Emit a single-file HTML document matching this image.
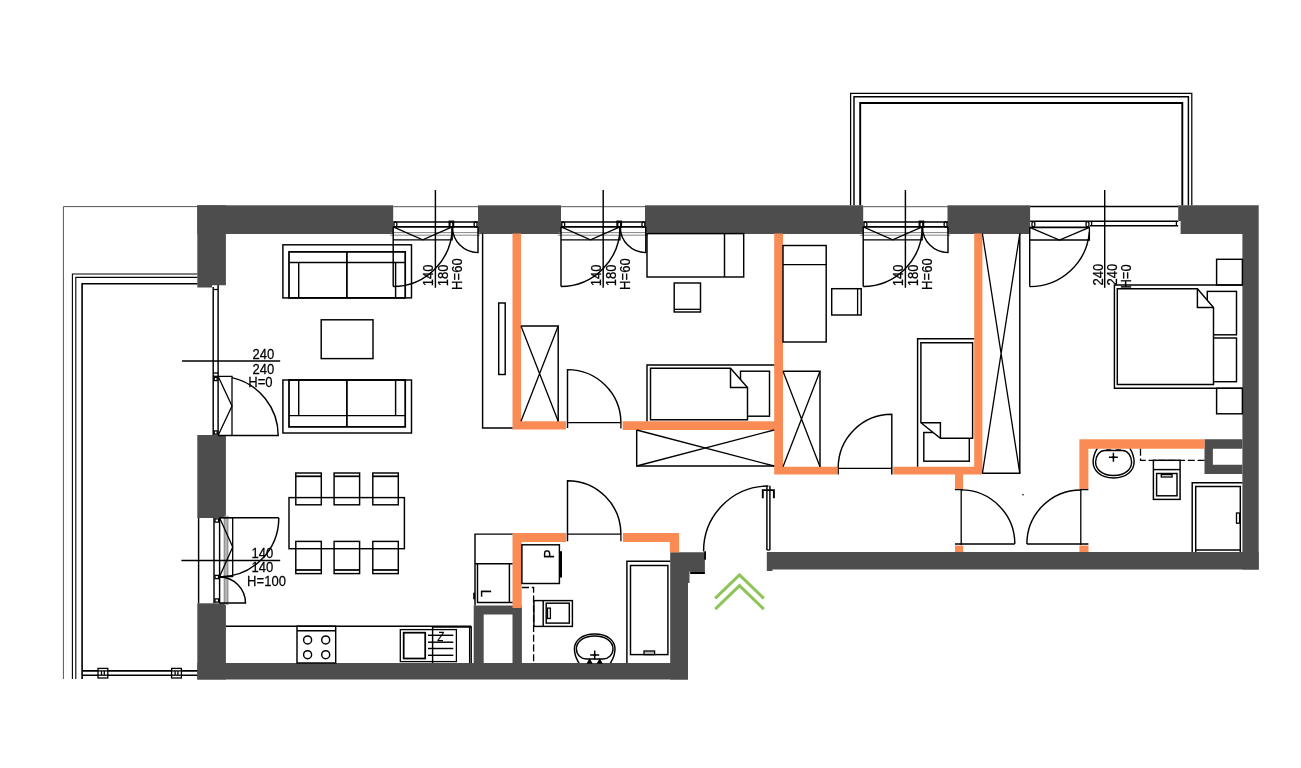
<!DOCTYPE html>
<html lang="pl">
<head>
<meta charset="utf-8">
<title>Rzut mieszkania</title>
<style>
html,body{margin:0;padding:0;background:#fff;}
body{width:1301px;height:768px;overflow:hidden;}
svg{display:block;}
text{font-family:"Liberation Sans",sans-serif;fill:#000;stroke:#000;stroke-width:0.25px;filter:grayscale(1);}
.t{stroke:#000;stroke-width:1.3;fill:none;}
.m{stroke:#000;stroke-width:1.45;fill:none;}
.k{stroke:#000;stroke-width:1.75;fill:none;}
.g{stroke:#555;stroke-width:1;fill:none;}
.g2{stroke:#555;stroke-width:0.7;fill:none;}
.g3{stroke:#777;stroke-width:0.9;fill:none;}
</style>
</head>
<body>
<svg width="1301" height="768" viewBox="0 0 1301 768">
<rect x="0" y="0" width="1301" height="768" fill="#fff"/>
<g fill="#4d4d4d" stroke="none">
<rect x="197.30" y="205.30" width="195.90" height="28.70"/>
<rect x="478.00" y="205.30" width="83.00" height="28.70"/>
<rect x="645.00" y="205.30" width="218.20" height="28.70"/>
<rect x="947.50" y="205.30" width="82.60" height="28.70"/>
<path d="M1178.2 205.3 H1258.7 V569.6 H1242.4 V234.0 H1180.6 V221 H1178.2 Z"/>
<path d="M197.3 205.3 H225.9 V285.2 H212 V287.5 H197.3 Z"/>
<rect x="197.30" y="435.00" width="28.60" height="83.00"/>
<rect x="197.30" y="603.30" width="28.60" height="76.20"/>
<rect x="197.30" y="663.00" width="490.50" height="16.50"/>
<path d="M670.2 552.3 H704.9 V571.5 H689.5 V583 H688 V679.5 H670.2 Z"/>
<path d="M473.7 605.6 H521.9 V663 H512.5 V614.6 H483.7 V663 H473.7 Z"/>
<path d="M766.8 552 H1258.7 V569.6 H772.5 V571 H766.8 Z"/>
<path d="M1204.5 439.2 H1242.4 V448.8 H1212.9 V464.8 H1242.4 V474.1 H1204.5 Z"/>
</g>
<rect x="690.20" y="571.50" width="14.70" height="2.50" fill="#000"/>
<rect x="704.20" y="551.30" width="1.80" height="8.40" fill="#000"/>
<g fill="#fa8b55" stroke="none">
<path d="M512.5 233.6 H521 V421.2 H565.9 V429.6 H512.5 Z"/>
<path d="M622.7 421.2 H774.2 V233.6 H783 V466.7 H837 V474.6 H774.2 V430 H622.7 Z"/>
<path d="M893.2 466.7 H974.2 V233.6 H982.4 V474.6 H963.1 V489 H955 V474.6 H893.2 Z"/>
<rect x="955.00" y="545.60" width="8.10" height="6.40"/>
<path d="M1079.4 439.2 H1204.5 V448.8 H1088.4 V489 H1079.4 Z"/>
<rect x="1079.40" y="545.60" width="9.10" height="6.40"/>
<path d="M512.5 533.1 H566.2 V541.9 H521.7 V608.1 H512.5 Z"/>
<path d="M622.9 533.1 H679.1 V552.3 H669.8 V541.9 H622.9 Z"/>
</g>
<path d="M197.3 206.6 H63.4 V679" class="g"/>
<path d="M197.3 274 H72.4 V679" class="t" style="stroke-width:1.1"/>
<path d="M197.3 277.4 H75.8 V679" class="t" style="stroke-width:1.1"/>
<path d="M197.3 283.7 H82.1 V679" class="m" style="stroke-width:1.6"/>
<line x1="82.10" y1="670.90" x2="197.30" y2="670.90" class="m" style="stroke-width:1.6"/>
<line x1="82.10" y1="675.20" x2="197.30" y2="675.20" class="m" style="stroke-width:1.6"/>
<rect x="98.00" y="668.40" width="9.80" height="9.60" class="t" style="fill:#fff"/>
<line x1="98.00" y1="670.90" x2="107.80" y2="670.90" class="t"/>
<line x1="98.00" y1="675.20" x2="107.80" y2="675.20" class="t"/>
<line x1="101.50" y1="671.00" x2="101.50" y2="675.00" class="t"/>
<line x1="104.30" y1="671.00" x2="104.30" y2="675.00" class="t"/>
<rect x="171.60" y="668.40" width="9.80" height="9.60" class="t" style="fill:#fff"/>
<line x1="171.60" y1="670.90" x2="181.40" y2="670.90" class="t"/>
<line x1="171.60" y1="675.20" x2="181.40" y2="675.20" class="t"/>
<line x1="175.10" y1="671.00" x2="175.10" y2="675.00" class="t"/>
<line x1="177.90" y1="671.00" x2="177.90" y2="675.00" class="t"/>
<path d="M850.6 205.3 V93.3 H1191.8 V205.3" class="t" style="stroke-width:1.25"/>
<path d="M854 205.3 V96.8 H1188.4 V205.3" class="m"/>
<path d="M860.2 205.3 V103 H1182.3 V205.3" class="k" style="stroke-width:1.9"/>
<line x1="213.20" y1="287.00" x2="213.20" y2="435.00" class="m"/>
<line x1="218.10" y1="285.00" x2="218.10" y2="435.00" class="m"/>
<line x1="213.20" y1="289.50" x2="218.10" y2="289.50" class="t"/>
<line x1="213.20" y1="373.00" x2="218.10" y2="373.00" class="t"/>
<line x1="213.20" y1="376.30" x2="218.10" y2="376.30" class="t"/>
<path d="M218.1 376.3 H232 V435.5" class="t"/>
<path d="M218.1 376.3 L232 406 L218.1 435.5" class="t"/>
<path d="M232 377.6 A59.6 59.6 0 0 1 278.2 435.5 H218.1" class="m"/>
<rect x="214.20" y="377.40" width="3.00" height="3.20" class="t" fill="none"/>
<rect x="214.20" y="430.90" width="3.00" height="3.20" class="t" fill="none"/>
<line x1="182.00" y1="361.00" x2="280.20" y2="361.00" class="m"/>
<text transform="translate(252.60 359.00) scale(0.86 1)" font-size="15.2">240</text>
<text transform="translate(252.60 373.90) scale(0.86 1)" font-size="15.2">240</text>
<text transform="translate(248.20 387.20) scale(0.86 1)" font-size="15.2">H=0</text>
<line x1="198.60" y1="518.00" x2="198.60" y2="603.30" class="m"/>
<line x1="214.00" y1="518.00" x2="214.00" y2="603.30" class="m"/>
<line x1="219.60" y1="518.00" x2="219.60" y2="603.30" class="m"/>
<rect x="224.40" y="515.70" width="3.30" height="89.30" fill="#b4b4b4"/>
<line x1="224.20" y1="515.70" x2="224.20" y2="605.00" class="g2"/>
<line x1="227.90" y1="515.70" x2="227.90" y2="605.00" class="g2"/>
<path d="M219.6 517.7 H278.8" class="m"/>
<path d="M219.6 517.7 H232.7 V576.6 H219.6" class="t"/>
<path d="M219.6 517.7 L232.7 547 L219.6 576.6" class="t"/>
<path d="M278.8 517.7 A59.2 59.2 0 0 1 219.6 576.9" class="m"/>
<path d="M219.6 577 A26 26 0 0 1 245.5 603 H219.6" class="m"/>
<rect x="215.00" y="518.90" width="3.60" height="3.20" class="t" fill="none"/>
<rect x="215.00" y="575.40" width="3.60" height="3.20" class="t" fill="none"/>
<rect x="215.00" y="598.90" width="3.60" height="3.20" class="t" fill="none"/>
<line x1="181.40" y1="560.40" x2="280.20" y2="560.40" class="m"/>
<text transform="translate(251.40 558.00) scale(0.86 1)" font-size="15.2">140</text>
<text transform="translate(251.40 572.40) scale(0.86 1)" font-size="15.2">140</text>
<text transform="translate(247.10 586.40) scale(0.86 1)" font-size="15.2">H=100</text>
<line x1="393.20" y1="206.70" x2="478.00" y2="206.70" class="g"/>
<line x1="390.20" y1="232.60" x2="480.20" y2="232.60" class="g3"/>
<line x1="390.20" y1="235.20" x2="480.20" y2="235.20" class="g3"/>
<line x1="393.20" y1="222.00" x2="478.00" y2="222.00" class="m"/>
<line x1="393.20" y1="226.90" x2="478.00" y2="226.90" class="m" style="stroke-width:1.7"/>
<ellipse cx="395.40" cy="224.4" rx="1.5" ry="2.6" class="t" fill="none"/>
<ellipse cx="451.40" cy="224.4" rx="1.5" ry="2.6" class="t" fill="none"/>
<ellipse cx="475.60" cy="224.4" rx="1.5" ry="2.6" class="t" fill="none"/>
<rect x="449.20" y="221.20" width="4.40" height="6.20" class="t" fill="none"/>
<path d="M393.20 226.9 V286.4" class="m"/>
<path d="M393.20 239.9 H452.20 V226.9" class="t"/>
<path d="M393.20 226.9 L422.70 239.9 L452.20 226.9" class="t"/>
<path d="M452.20 227 A59.2 59.2 0 0 1 393.20 286.4" class="m"/>
<path d="M452.50 227 A25.5 25.5 0 0 0 478.00 252.6 V227" class="m"/>
<line x1="435.40" y1="190.00" x2="435.40" y2="287.80" class="m"/>
<text transform="translate(433.40 286.20) rotate(-90) scale(0.86 1)" font-size="15.2">140</text>
<text transform="translate(448.00 286.20) rotate(-90) scale(0.86 1)" font-size="15.2">180</text>
<text transform="translate(461.80 289.90) rotate(-90) scale(0.86 1)" font-size="15.2">H=60</text>
<line x1="561.00" y1="206.70" x2="645.80" y2="206.70" class="g"/>
<line x1="558.00" y1="232.60" x2="648.00" y2="232.60" class="g3"/>
<line x1="558.00" y1="235.20" x2="648.00" y2="235.20" class="g3"/>
<line x1="561.00" y1="222.00" x2="645.80" y2="222.00" class="m"/>
<line x1="561.00" y1="226.90" x2="645.80" y2="226.90" class="m" style="stroke-width:1.7"/>
<ellipse cx="563.20" cy="224.4" rx="1.5" ry="2.6" class="t" fill="none"/>
<ellipse cx="619.20" cy="224.4" rx="1.5" ry="2.6" class="t" fill="none"/>
<ellipse cx="643.40" cy="224.4" rx="1.5" ry="2.6" class="t" fill="none"/>
<rect x="617.00" y="221.20" width="4.40" height="6.20" class="t" fill="none"/>
<path d="M561.00 226.9 V286.4" class="m"/>
<path d="M561.00 239.9 H620.00 V226.9" class="t"/>
<path d="M561.00 226.9 L590.50 239.9 L620.00 226.9" class="t"/>
<path d="M620.00 227 A59.2 59.2 0 0 1 561.00 286.4" class="m"/>
<path d="M620.30 227 A25.5 25.5 0 0 0 645.80 252.6 V227" class="m"/>
<line x1="603.20" y1="190.00" x2="603.20" y2="287.80" class="m"/>
<text transform="translate(601.20 286.20) rotate(-90) scale(0.86 1)" font-size="15.2">140</text>
<text transform="translate(615.80 286.20) rotate(-90) scale(0.86 1)" font-size="15.2">180</text>
<text transform="translate(629.60 289.90) rotate(-90) scale(0.86 1)" font-size="15.2">H=60</text>
<line x1="863.20" y1="206.70" x2="948.00" y2="206.70" class="g"/>
<line x1="860.20" y1="232.60" x2="950.20" y2="232.60" class="g3"/>
<line x1="860.20" y1="235.20" x2="950.20" y2="235.20" class="g3"/>
<line x1="863.20" y1="222.00" x2="948.00" y2="222.00" class="m"/>
<line x1="863.20" y1="226.90" x2="948.00" y2="226.90" class="m" style="stroke-width:1.7"/>
<ellipse cx="865.40" cy="224.4" rx="1.5" ry="2.6" class="t" fill="none"/>
<ellipse cx="921.40" cy="224.4" rx="1.5" ry="2.6" class="t" fill="none"/>
<ellipse cx="945.60" cy="224.4" rx="1.5" ry="2.6" class="t" fill="none"/>
<rect x="919.20" y="221.20" width="4.40" height="6.20" class="t" fill="none"/>
<path d="M863.20 226.9 V286.4" class="m"/>
<path d="M863.20 239.9 H922.20 V226.9" class="t"/>
<path d="M863.20 226.9 L892.70 239.9 L922.20 226.9" class="t"/>
<path d="M922.20 227 A59.2 59.2 0 0 1 863.20 286.4" class="m"/>
<path d="M922.50 227 A25.5 25.5 0 0 0 948.00 252.6 V227" class="m"/>
<line x1="905.40" y1="190.00" x2="905.40" y2="287.80" class="m"/>
<text transform="translate(903.40 286.20) rotate(-90) scale(0.86 1)" font-size="15.2">140</text>
<text transform="translate(918.00 286.20) rotate(-90) scale(0.86 1)" font-size="15.2">180</text>
<text transform="translate(931.80 289.90) rotate(-90) scale(0.86 1)" font-size="15.2">H=60</text>
<line x1="1030.10" y1="206.50" x2="1178.20" y2="206.50" class="m"/>
<line x1="1030.10" y1="221.30" x2="1178.20" y2="221.30" class="m"/>
<line x1="1090.00" y1="225.80" x2="1178.20" y2="225.80" class="m"/>
<line x1="1030.10" y1="227.30" x2="1090.00" y2="227.30" class="k"/>
<ellipse cx="1033.4" cy="224.3" rx="1.5" ry="2.6" class="t" fill="none"/>
<ellipse cx="1087.5" cy="224.3" rx="1.5" ry="2.6" class="t" fill="none"/>
<line x1="1091.60" y1="221.30" x2="1091.60" y2="225.80" class="t"/>
<line x1="1176.40" y1="221.30" x2="1176.40" y2="225.80" class="t"/>
<path d="M1029.7 227.3 V286.6" class="m"/>
<path d="M1029.7 240 H1089.4 V227.3" class="t"/>
<path d="M1029.7 227.3 L1059.5 240 L1089.4 227.3" class="t"/>
<path d="M1089.4 232 A59.7 59.7 0 0 1 1029.7 286.6" class="m"/>
<line x1="1104.70" y1="190.00" x2="1104.70" y2="287.80" class="m"/>
<text transform="translate(1102.80 285.40) rotate(-90) scale(0.86 1)" font-size="15.2">240</text>
<text transform="translate(1117.20 285.40) rotate(-90) scale(0.86 1)" font-size="15.2">240</text>
<text transform="translate(1130.70 288.60) rotate(-90) scale(0.86 1)" font-size="15.2">H=0</text>
<rect x="282.90" y="244.80" width="128.60" height="53.10" class="m" fill="none"/>
<rect x="289.00" y="251.90" width="116.20" height="46.00" class="k" fill="none"/>
<line x1="289.00" y1="262.50" x2="405.20" y2="262.50" class="m"/>
<line x1="346.90" y1="251.90" x2="346.90" y2="297.90" class="k"/>
<line x1="298.70" y1="262.50" x2="298.70" y2="297.90" class="m"/>
<line x1="395.60" y1="262.50" x2="395.60" y2="297.90" class="m"/>
<rect x="282.90" y="380.00" width="128.60" height="53.00" class="m" fill="none"/>
<rect x="289.00" y="380.00" width="116.20" height="46.90" class="k" fill="none"/>
<line x1="289.00" y1="415.60" x2="405.20" y2="415.60" class="m"/>
<line x1="346.90" y1="380.00" x2="346.90" y2="426.90" class="k"/>
<line x1="298.70" y1="380.00" x2="298.70" y2="415.60" class="m"/>
<line x1="395.60" y1="380.00" x2="395.60" y2="415.60" class="m"/>
<rect x="321.20" y="319.80" width="51.80" height="38.80" class="m" fill="none"/>
<rect x="295.80" y="473.00" width="25.50" height="31.80" class="m" fill="none"/>
<line x1="295.80" y1="476.30" x2="321.30" y2="476.30" class="k"/>
<rect x="295.80" y="541.40" width="25.50" height="32.20" class="m" fill="none"/>
<line x1="295.80" y1="570.00" x2="321.30" y2="570.00" class="k"/>
<rect x="334.10" y="473.00" width="25.50" height="31.80" class="m" fill="none"/>
<line x1="334.10" y1="476.30" x2="359.60" y2="476.30" class="k"/>
<rect x="334.10" y="541.40" width="25.50" height="32.20" class="m" fill="none"/>
<line x1="334.10" y1="570.00" x2="359.60" y2="570.00" class="k"/>
<rect x="372.80" y="473.00" width="25.50" height="31.80" class="m" fill="none"/>
<line x1="372.80" y1="476.30" x2="398.30" y2="476.30" class="k"/>
<rect x="372.80" y="541.40" width="25.50" height="32.20" class="m" fill="none"/>
<line x1="372.80" y1="570.00" x2="398.30" y2="570.00" class="k"/>
<rect x="289.00" y="497.60" width="115.40" height="51.10" class="m" fill="none"/>
<path d="M482.6 233.6 V428 H512.5" class="m"/>
<rect x="498.70" y="303.00" width="6.50" height="71.50" class="m" fill="none"/>
<line x1="225.90" y1="626.20" x2="471.20" y2="626.20" class="m"/>
<line x1="432.60" y1="627.20" x2="471.20" y2="627.20" class="t"/>
<rect x="297.00" y="626.20" width="38.70" height="36.80" class="m" fill="none"/>
<line x1="297.00" y1="630.80" x2="335.70" y2="630.80" class="m"/>
<circle cx="307.6" cy="639.9" r="4" class="m" fill="none"/>
<circle cx="325.7" cy="639.9" r="4" class="m" fill="none"/>
<circle cx="307.6" cy="654.7" r="4" class="m" fill="none"/>
<circle cx="325.7" cy="654.7" r="4" class="m" fill="none"/>
<rect x="400.30" y="629.60" width="56.10" height="32.00" class="t" fill="none"/>
<rect x="403.70" y="632.70" width="21.50" height="25.80" class="k" fill="none"/>
<line x1="428.00" y1="635.30" x2="453.30" y2="635.30" class="m"/>
<line x1="428.00" y1="642.20" x2="453.30" y2="642.20" class="m"/>
<line x1="428.00" y1="648.50" x2="453.30" y2="648.50" class="m"/>
<line x1="428.00" y1="655.30" x2="453.30" y2="655.30" class="m"/>
<line x1="432.60" y1="626.20" x2="432.60" y2="663.00" class="m"/>
<line x1="471.20" y1="626.20" x2="471.20" y2="663.00" class="m"/>
<line x1="469.60" y1="626.20" x2="469.60" y2="663.00" class="t"/>
<text transform="translate(437.80 641.40) scale(0.8 1)" font-size="12" font-style="italic">Z</text>
<path d="M475 605.6 V534.1 H512.5" class="m"/>
<line x1="475.00" y1="563.80" x2="512.50" y2="563.80" class="m"/>
<path d="M477.5 563.8 V602.5 H512.5" class="m"/>
<line x1="509.40" y1="563.80" x2="509.40" y2="602.50" class="m"/>
<rect x="473.20" y="592.50" width="1.80" height="7.10" fill="#000" rx="0.8"/>
<text transform="translate(480.70 589.70) rotate(90) scale(0.86 1)" font-size="15.2">L</text>
<path d="M567.5 428 V369.6 A53.4 53.4 0 0 1 620.9 422.4" class="m"/>
<line x1="567.50" y1="422.60" x2="620.90" y2="422.60" class="t"/>
<line x1="620.90" y1="422.00" x2="620.90" y2="428.60" class="t"/>
<path d="M567.5 541.3 V480.7 A53.4 53.4 0 0 1 620.9 534.1" class="m"/>
<line x1="567.50" y1="534.10" x2="620.90" y2="534.10" class="t"/>
<line x1="620.90" y1="534.00" x2="620.90" y2="541.30" class="t"/>
<rect x="521.90" y="544.80" width="37.50" height="38.70" class="m" fill="none"/>
<line x1="560.80" y1="551.20" x2="560.80" y2="577.50" class="t" style="stroke-width:2.4"/>
<text transform="translate(554.40 558.30) rotate(-90) scale(0.86 1)" font-size="15.2">P</text>
<path d="M522 587.5 H533.6 V663" class="t" stroke-dasharray="7 2.8"/>
<rect x="533.90" y="600.60" width="38.50" height="25.80" class="m" fill="none"/>
<line x1="543.20" y1="600.60" x2="543.20" y2="626.40" class="m"/>
<rect x="546.20" y="603.20" width="23.10" height="19.90" class="m" fill="none"/>
<rect x="547.50" y="608.10" width="2.90" height="10.40" class="t" fill="none"/>
<clipPath id="cb1"><rect x="570" y="630" width="50" height="33"/></clipPath>
<g clip-path="url(#cb1)">
<path d="M594.7 634 C608 634 615 641 615 649 C615 656 611 663 607 668 H582.4 C578.4 663 574.4 656 574.4 649 C574.4 641 581.4 634 594.7 634 Z" class="m" fill="none"/>
<path d="M594.7 636 C606.5 636 613 642 613 649 C613 655 608 659 603 659 H586.4 C581.4 659 576.4 655 576.4 649 C576.4 642 582.9 636 594.7 636 Z" class="m" fill="none"/>
</g>
<path d="M590.2 654.9 H599.2 M594.7 650.4 V659.4" class="m"/>
<circle cx="594.7" cy="654.9" r="1.3" fill="#000"/>
<path d="M587.6 663 L589.6 659.6 L591.6 663 Z M597.7 663 L599.7 659.6 L601.7 663 Z" class="t" style="fill:#000"/>
<path d="M626.9 663 V561.3 H670.2" class="m"/>
<rect x="630.50" y="565.50" width="37.40" height="89.10" class="m" fill="none"/>
<rect x="644.00" y="651.00" width="10.60" height="3.60" class="t" style="fill:#bbb"/>
<path d="M521 326 H558.2 V421.2" class="m"/>
<path d="M521 326 L558.2 421.2 M558.2 326 L521 421.2" class="t"/>
<rect x="647.00" y="233.60" width="96.70" height="43.40" class="m" fill="none"/>
<line x1="724.50" y1="233.60" x2="724.50" y2="277.00" class="m"/>
<rect x="674.20" y="283.00" width="26.30" height="29.00" class="m" fill="none"/>
<line x1="674.20" y1="309.30" x2="700.50" y2="309.30" class="t"/>
<path d="M774.2 365 H647 V421.2" class="m"/>
<rect x="740.50" y="371.20" width="29.00" height="45.00" class="m" fill="none"/>
<path d="M650.5 368.2 H730.5 L747.5 387.5 V419.8 H650.5 Z" class="m" style="fill:#fff"/>
<path d="M730.5 368.2 V387.5 H747.5" class="m"/>
<path d="M636.7 430 V466 H774.2" class="m"/>
<path d="M636.7 466 L774.2 430 M636.7 430 L774.2 466" class="t"/>
<rect x="783.00" y="245.50" width="43.20" height="96.50" class="m" fill="none"/>
<line x1="783.00" y1="264.60" x2="826.20" y2="264.60" class="m"/>
<rect x="831.70" y="288.70" width="29.50" height="26.30" class="m" fill="none"/>
<line x1="857.60" y1="288.70" x2="857.60" y2="315.00" class="t"/>
<path d="M783 371.2 H820 V466.7" class="m"/>
<path d="M783 371.2 L820 466.7 M820 371.2 L783 466.7" class="t"/>
<path d="M891.8 474.4 V414.2 A53.6 53.6 0 0 0 838.2 467.8" class="m"/>
<line x1="838.20" y1="468.30" x2="891.80" y2="468.30" class="t"/>
<line x1="838.20" y1="467.50" x2="838.20" y2="474.40" class="t"/>
<path d="M917.6 466.7 V338.8 H974.2" class="m"/>
<rect x="923.80" y="432.50" width="45.50" height="28.70" class="m" fill="none"/>
<path d="M920.9 342.7 H972.6 V438.3 H940.4 L920.9 422.7 Z" class="m" style="fill:#fff"/>
<path d="M920.9 422.7 H940.4 V438.3" class="m"/>
<path d="M1019.8 233.6 V473.3 H982.4" class="m"/>
<path d="M982.4 473.3 L1019.8 233.6 M1019.8 473.3 L982.4 233.6" class="t"/>
<path d="M955 489.7 H963 M961.2 489 V545 M955 544 H1014.8" class="t"/>
<path d="M961.2 489.9 A54 54 0 0 1 1014.8 544" class="m"/>
<path d="M1088.4 489.7 H1080 M1080.8 489 V545 M1088.4 544 H1026.9" class="t"/>
<path d="M1080.8 489.9 A54 54 0 0 0 1026.9 544" class="m"/>
<circle cx="1023" cy="494.8" r="0.8" fill="#000"/>
<rect x="1216.60" y="259.30" width="25.80" height="25.70" class="m" fill="none"/>
<rect x="1216.60" y="388.30" width="25.80" height="25.50" class="m" fill="none"/>
<path d="M1242.4 285 H1114.4 V388.3 H1242.4" class="m"/>
<rect x="1207.30" y="291.40" width="29.20" height="43.40" class="m" fill="none"/>
<rect x="1207.30" y="338.00" width="29.20" height="43.70" class="m" fill="none"/>
<path d="M1117.3 288.7 H1197.4 L1213.5 307.5 V384.5 H1117.3 Z" class="m" style="fill:#fff"/>
<path d="M1197.4 288.7 V307.5 H1213.5" class="m"/>
<clipPath id="cb2"><rect x="1090" y="448.8" width="50" height="33"/></clipPath>
<g clip-path="url(#cb2)">
<path d="M1113.6 477.9 C1100 477.9 1093.1 470 1093.1 462 C1093.1 455 1097 448 1101 443 H1126.2 C1130.2 448 1134.1 455 1134.1 462 C1134.1 470 1127.2 477.9 1113.6 477.9 Z" class="m" fill="none"/>
<path d="M1113.6 475.4 C1101.6 475.4 1095.6 469 1095.6 462 C1095.6 456 1099.6 450.5 1104.6 450.5 H1122.6 C1127.6 450.5 1131.6 456 1131.6 462 C1131.6 469 1125.6 475.4 1113.6 475.4 Z" class="m" fill="none"/>
</g>
<path d="M1108.9 457.2 H1117.9 M1113.4 452.7 V461.7" class="m"/>
<circle cx="1113.4" cy="457.2" r="1.3" fill="#000"/>
<path d="M1106.2 450 H1111.2 M1115.8 450 H1120.8" class="t" style="stroke-width:1.6"/>
<path d="M1140.5 448.8 V460.3 H1204.5" class="t" stroke-dasharray="7 2.8"/>
<rect x="1153.40" y="460.30" width="26.70" height="39.10" class="m" fill="none"/>
<line x1="1153.40" y1="469.60" x2="1180.10" y2="469.60" class="m"/>
<rect x="1156.60" y="473.50" width="20.40" height="22.30" class="m" fill="none"/>
<rect x="1161.30" y="474.60" width="10.80" height="2.40" class="t" fill="none"/>
<path d="M1242.4 482.8 H1192.2 V552" class="m"/>
<path d="M1240.3 552 V486.4 H1195.7 V552" class="m"/>
<line x1="1195.70" y1="550.00" x2="1240.30" y2="550.00" class="m"/>
<rect x="1236.50" y="513.00" width="3.10" height="10.20" class="t" fill="none"/>
<line x1="766.90" y1="485.80" x2="766.90" y2="550.00" class="m"/>
<line x1="769.90" y1="485.80" x2="769.90" y2="550.00" class="m"/>
<line x1="766.90" y1="550.00" x2="769.90" y2="550.00" class="t"/>
<path d="M768.4 486 A65 65 0 0 0 703.6 551.5" class="m"/>
<path d="M762.8 498.3 V490.1 H773.9 V498.3" class="t" style="stroke-width:1.9;stroke-linejoin:miter"/>
<polyline points="715.2,598.4 739.5,574.9 763.8,598.4" fill="none" stroke="#8dc55a" stroke-width="3"/>
<polyline points="715.2,609.2 739.5,585.7 763.8,609.2" fill="none" stroke="#8dc55a" stroke-width="3"/>
</svg>
</body>
</html>
